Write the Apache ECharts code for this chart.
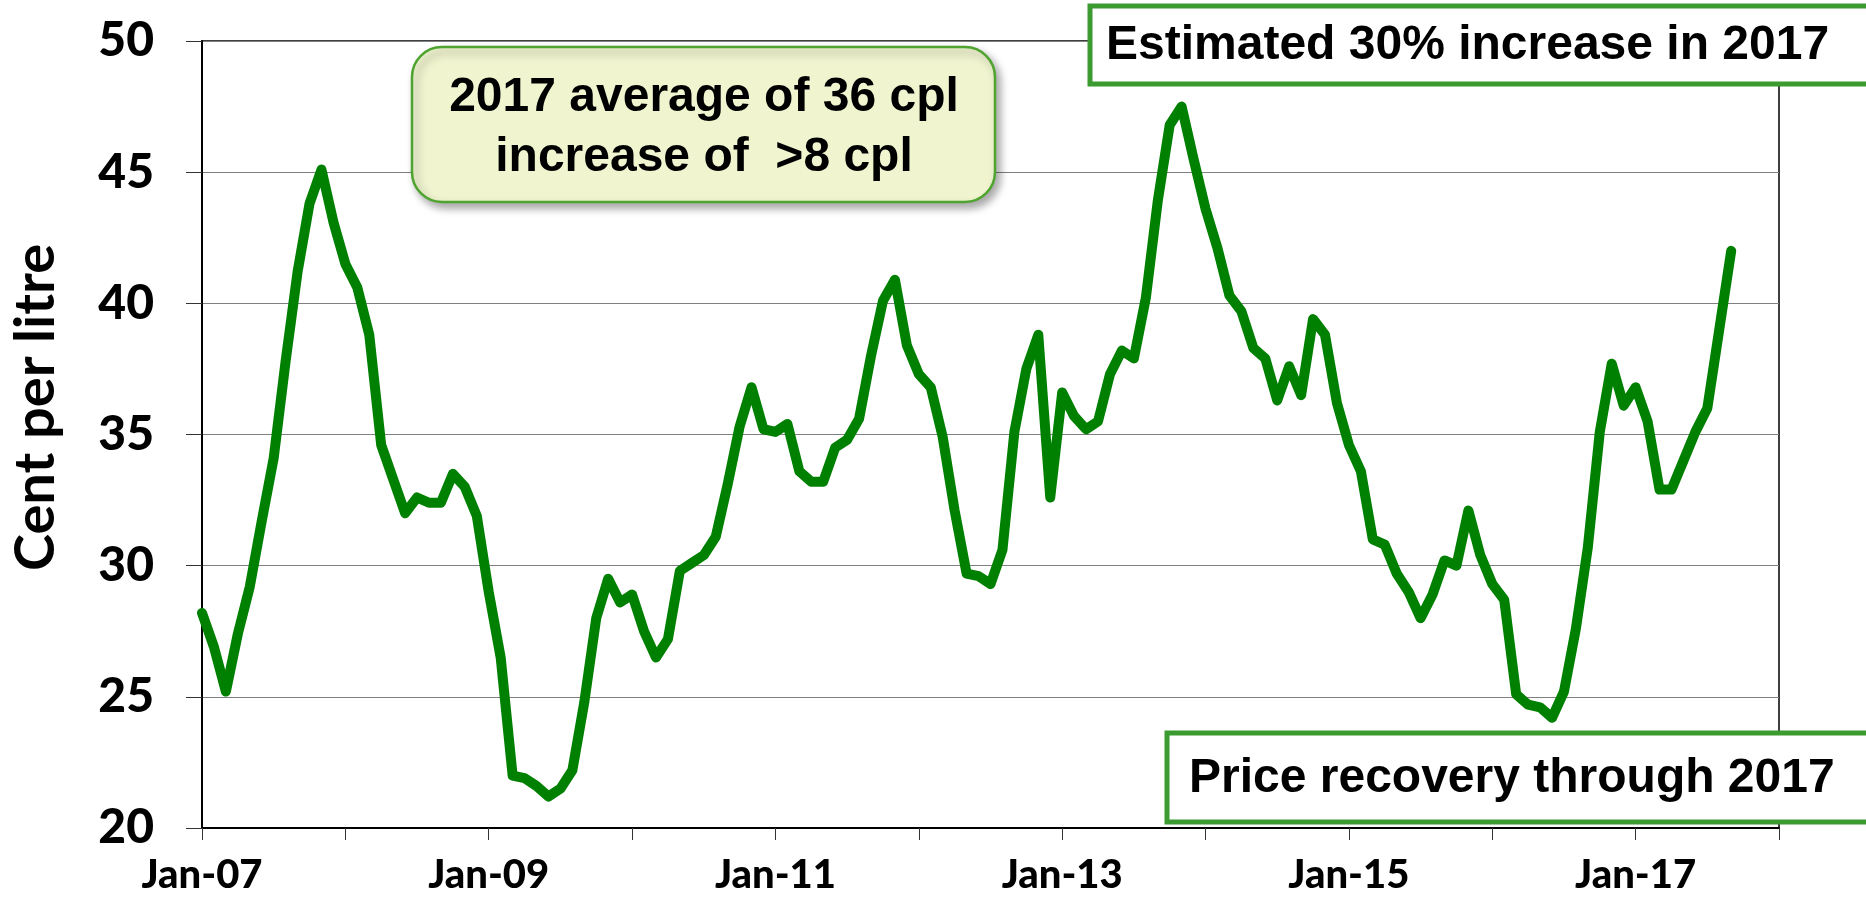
<!DOCTYPE html>
<html>
<head>
<meta charset="utf-8">
<script src="https://cdn.jsdelivr.net/npm/echarts@6/dist/echarts.min.js"></script>
<style>
  html, body { margin: 0; padding: 0; background: #fff; }
  #chart { width: 1866px; height: 902px; }
</style>
</head>
<body>
<div id="chart"></div>
<script>
// month labels Jan-07 .. Jan-18
const monthNames = ["Jan", "Feb", "Mar", "Apr", "May", "Jun", "Jul", "Aug", "Sep", "Oct", "Nov", "Dec"];
const years = ["07", "08", "09", "10", "11", "12", "13", "14", "15", "16", "17", "18"];

// cents per litre, monthly from Jan-07 to Sep-17
const price = [
  28.2, 26.9, 25.2, 27.4, 29.2, 31.7, 34.1, 37.8, 41.2, 43.8, 45.1, 43.1,
  41.5, 40.6, 38.8, 34.6, 33.3, 32.0, 32.6, 32.4, 32.4, 33.5, 33.0, 31.9,
  29.0, 26.5, 22.0, 21.9, 21.6, 21.2, 21.5, 22.2, 24.8, 28.0, 29.5, 28.6,
  28.9, 27.5, 26.5, 27.2, 29.8, 30.1, 30.4, 31.1, 33.1, 35.3, 36.8, 35.2,
  35.1, 35.4, 33.6, 33.2, 33.2, 34.5, 34.8, 35.6, 38.0, 40.1, 40.9, 38.4,
  37.3, 36.8, 34.9, 32.1, 29.7, 29.6, 29.3, 30.6, 35.1, 37.5, 38.8, 32.6,
  36.6, 35.7, 35.2, 35.5, 37.3, 38.2, 37.9, 40.2, 43.9, 46.8, 47.5, 45.5,
  43.6, 42.1, 40.3, 39.7, 38.3, 37.9, 36.3, 37.6, 36.5, 39.4, 38.8, 36.2,
  34.6, 33.6, 31.0, 30.8, 29.7, 29.0, 28.0, 28.9, 30.2, 30.0, 32.1, 30.4,
  29.3, 28.7, 25.1, 24.7, 24.6, 24.2, 25.2, 27.6, 30.7, 35.1, 37.7, 36.1,
  36.8, 35.5, 32.9, 32.9, 34.0, 35.1, 36.0, 39.0, 42.0
];

const yTicks = { min: 20, max: 50, step: 5 };
const axisName = "Cent per litre";
const notes = {
  average: "2017 average of 36 cpl\nincrease of  >8 cpl",
  estimate: "Estimated 30% increase in 2017",
  recovery: "Price recovery through 2017"
};

const categories = [];
years.forEach(function (yy) {
  monthNames.forEach(function (mm) {
    categories.push(mm + "-" + yy);
  });
});
categories.length = 133; // stop at Jan-18

let myChart = echarts.init(document.getElementById("chart"));
const axisFont = "Lato";
const boxFont = "'Liberation Sans', Arial, sans-serif";

let option = {
  animation: false,
  grid: { left: 201, right: 87, top: 41, bottom: 74, show: true, borderColor: "#000", borderWidth: 1.5, backgroundColor: "transparent" },
  xAxis: {
    type: "category",
    data: categories,
    boundaryGap: false,
    axisLine: { lineStyle: { color: "#000", width: 2 } },
    axisTick: {
      inside: false,
      length: 12,
      interval: function (i) { return i % 12 === 0; },
      lineStyle: { color: "#333", width: 1 }
    },
    axisLabel: {
      interval: function (i) { return i % 24 === 0; },
      margin: 27,
      color: "#000",
      fontFamily: axisFont,
      fontWeight: 900,
      fontSize: 40
    },
    splitLine: { show: false }
  },
  yAxis: {
    type: "value",
    min: yTicks.min,
    max: yTicks.max,
    interval: yTicks.step,
    name: axisName,
    nameLocation: "middle",
    nameGap: 138,
    nameTextStyle: { color: "#000", fontFamily: axisFont, fontWeight: "bold", fontSize: 56, padding: [0, 0, 0, 54] },
    axisLine: { show: true, lineStyle: { color: "#000", width: 2 } },
    axisTick: { show: true, length: 16, lineStyle: { color: "#333", width: 1 } },
    axisLabel: { margin: 48, color: "#000", fontFamily: axisFont, fontWeight: 900, fontSize: 48 },
    splitLine: { lineStyle: { color: "#808080", width: 1.2 } }
  },
  series: [
    {
      type: "line",
      data: price,
      symbol: "none",
      lineStyle: { color: "#008000", width: 10, join: "round", cap: "round" },
      z: 3
    }
  ],
  graphic: [
    {
      type: "rect",
      z: 10,
      shape: { x: 412, y: 47, width: 583, height: 155, r: 30 },
      style: {
        fill: "#f0f5d0", stroke: "#4ea42e", lineWidth: 2.5,
        shadowBlur: 8, shadowOffsetX: 4, shadowOffsetY: 5, shadowColor: "rgba(0,0,0,0.35)"
      }
    },
    {
      type: "text",
      z: 11,
      x: 704, y: 128,
      style: {
        text: notes.average, align: "center", verticalAlign: "middle",
        fontFamily: boxFont, fontWeight: "bold", fontSize: 48, lineHeight: 60, fill: "#000"
      }
    },
    {
      type: "rect",
      z: 10,
      shape: { x: 1090, y: 6, width: 820, height: 78 },
      style: { fill: "#fff", stroke: "#3c9b30", lineWidth: 5 }
    },
    {
      type: "text",
      z: 11,
      x: 1106, y: 46,
      style: {
        text: notes.estimate, align: "left", verticalAlign: "middle",
        fontFamily: boxFont, fontWeight: "bold", fontSize: 48, fill: "#000"
      }
    },
    {
      type: "rect",
      z: 10,
      shape: { x: 1167, y: 733, width: 760, height: 89 },
      style: { fill: "#fff", stroke: "#3c9b30", lineWidth: 5 }
    },
    {
      type: "text",
      z: 11,
      x: 1189, y: 779,
      style: {
        text: notes.recovery, align: "left", verticalAlign: "middle",
        fontFamily: boxFont, fontWeight: "bold", fontSize: 48, fill: "#000"
      }
    }
  ]
};
option && myChart.setOption(option);
</script>
</body>
</html>
